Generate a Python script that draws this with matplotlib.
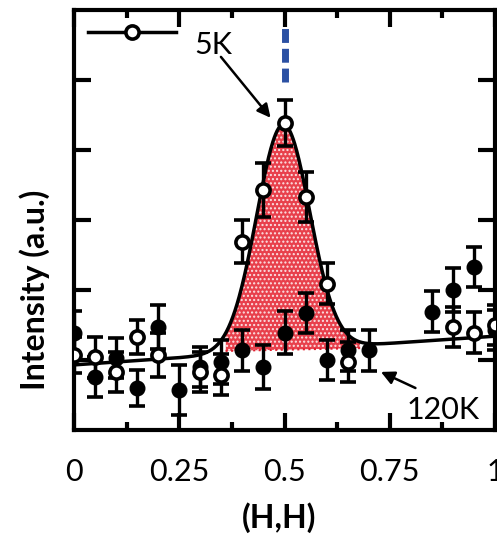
import numpy as np
import matplotlib
matplotlib.use("Agg")
import matplotlib.pyplot as plt
from matplotlib.lines import Line2D

plt.rcParams['font.family'] = ['Lato', 'DejaVu Sans']

# ---- data ----
h_5k = [0.0, 0.05, 0.10, 0.15, 0.20, 0.30, 0.35, 0.40, 0.45, 0.50, 0.55, 0.60, 0.65, 0.90, 0.95, 1.00]
y_5k = [1.07, 1.04, 0.83, 1.33, 1.07, 0.83, 0.79, 2.69, 3.43, 4.39, 3.33, 2.09, 0.97, 1.47, 1.39, 1.50]
e_5k = [0.26, 0.29, 0.29, 0.24, 0.31, 0.29, 0.29, 0.31, 0.39, 0.33, 0.36, 0.29, 0.29, 0.29, 0.29, 0.29]

h_120k = [0.0, 0.05, 0.10, 0.15, 0.20, 0.25, 0.30, 0.35, 0.40, 0.45, 0.50, 0.55, 0.60, 0.65, 0.70, 0.85, 0.90, 0.95, 1.00]
y_120k = [1.39, 0.76, 1.03, 0.60, 1.47, 0.57, 0.90, 0.97, 1.14, 0.90, 1.39, 1.67, 1.00, 1.14, 1.14, 1.69, 2.00, 2.33, 1.43]
e_120k = [0.31, 0.29, 0.29, 0.26, 0.31, 0.36, 0.29, 0.31, 0.29, 0.31, 0.31, 0.29, 0.29, 0.29, 0.29, 0.29, 0.31, 0.29, 0.29]

# Gaussian fit (5K) on a linear background
fit_base_left, fit_base_right = 0.93, 1.34
fit_center, fit_sigma, fit_amp = 0.497, 0.063, 3.23

# 120K level (red dotted line bounding the shaded area)
red_h = [0.36, 0.68]
red_y = [1.13, 1.17]

x_ticks = [0, 0.25, 0.5, 0.75, 1]
x_ticklabels = ['0', '0.25', '0.5', '0.75', '1']

# ---- figure ----
fig = plt.figure(figsize=(4.97, 5.37), dpi=100)
ax = fig.add_axes([74/497, 107/537, 421/497, 420/537])

hh = np.linspace(0, 1, 600)
fit = (fit_base_left + (fit_base_right - fit_base_left) * hh
       + fit_amp * np.exp(-0.5 * ((hh - fit_center) / fit_sigma) ** 2))
red_level = np.interp(hh, red_h, red_y)
mask = (hh >= red_h[0]) & (hh <= red_h[1]) & (fit > red_level)

ax.fill_between(hh, red_level, fit, where=mask, facecolor='#e8404c',
                edgecolor='#fbe3e5', hatch='....', linewidth=0, zorder=1)
ax.plot(red_h, red_y, color='#e02030', ls=':', lw=1.5, zorder=1.5)
ax.plot(hh, fit, color='black', lw=2.5, zorder=2)

ax.errorbar(h_120k, y_120k, yerr=e_120k, fmt='o', ms=10.5, mfc='black', mec='black',
            ecolor='black', elinewidth=2.4, capsize=6, capthick=2.6, zorder=3)
ax.errorbar(h_5k, y_5k, yerr=e_5k, fmt='o', ms=9.5, mfc='white', mec='black', mew=2.6,
            ecolor='black', elinewidth=2.4, capsize=6, capthick=2.6, zorder=4)

# blue dashed marker at H = 0.5
ax.vlines(0.5, 4.97, 5.74, colors='#2b50a3', lw=5,
          linestyles=[(0, (2.0, 0.85))], zorder=2)

# annotations
ax.text(0.330, 5.5, '5K', fontsize=22, ha='center', va='center')
ax.annotate('', xy=(0.467, 4.46), xytext=(0.349, 5.33),
            arrowprops=dict(arrowstyle='-|>,head_length=0.8,head_width=0.4',
                            color='black', lw=1.8, shrinkA=0, shrinkB=0))
ax.text(0.877, 0.286, '120K', fontsize=22, ha='center', va='center')
ax.annotate('', xy=(0.729, 0.83), xytext=(0.811, 0.60),
            arrowprops=dict(arrowstyle='-|>,head_length=0.8,head_width=0.4',
                            color='black', lw=1.8, shrinkA=0, shrinkB=0))

# legend handle (label cut off in the reference)
handle = Line2D([], [], color='black', lw=2.5, marker='o', ms=9.5,
                mfc='white', mec='black', mew=2.6)
ax.legend(handles=[handle], labels=[''], loc='center left',
          bbox_to_anchor=((88 - 74) / 421, (430 - 33) / 420),
          frameon=False, borderpad=0, borderaxespad=0, handletextpad=0,
          handlelength=6.3, fontsize=10)

ax.set_xlim(0, 0.993)
ax.set_ylim(0, 6)
ax.set_xticks(x_ticks)
ax.set_xticklabels(x_ticklabels)
ax.set_xticks([0.125, 0.375, 0.625, 0.875], minor=True)
ax.set_yticks([1, 2, 3, 4, 5])
ax.set_yticklabels([])
ax.tick_params(which='both', direction='in', top=True, right=True, width=3)
ax.tick_params(which='major', length=12, labelsize=22, pad=20)
ax.tick_params(which='minor', length=6)
for s in ax.spines.values():
    s.set_linewidth(3)

ax.set_xlabel('(H,H)', fontsize=23, fontweight='bold')
ax.xaxis.set_label_coords((279 - 74) / 421, (430 - 502) / 420)
ax.set_ylabel('Intensity (a.u.)', fontsize=23, fontweight='bold')
ax.yaxis.set_label_coords((50 - 74) / 421, (430 - 290) / 420)

fig.savefig('out.png', dpi=100)
